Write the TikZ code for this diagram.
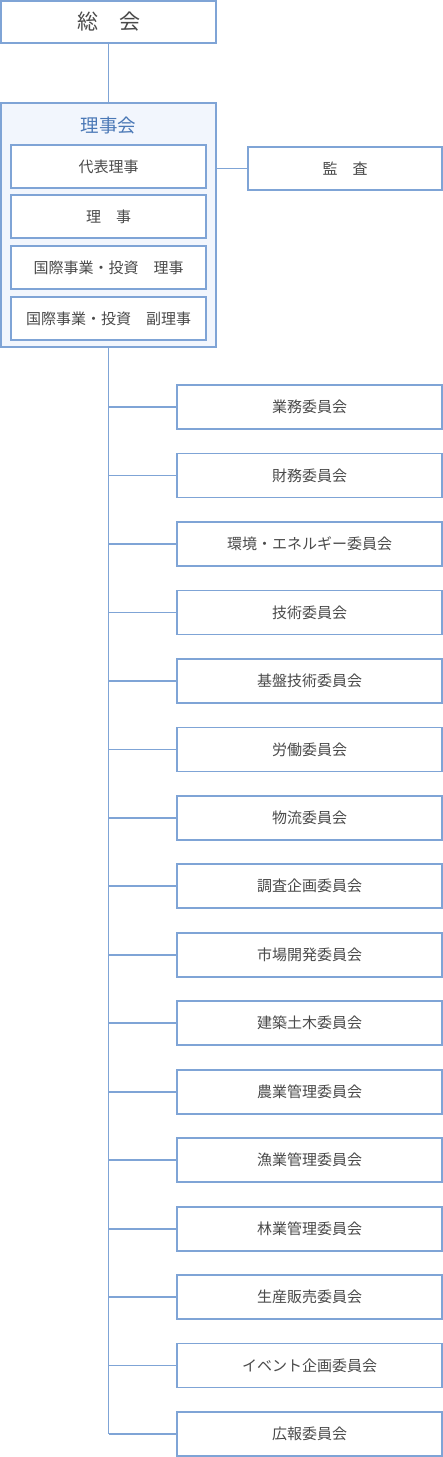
\documentclass[tikz,border=0pt]{standalone}
\usepackage{fontspec}
\setmainfont{Noto Sans CJK JP}
\definecolor{lc}{HTML}{7FA4D6}
\definecolor{tc}{HTML}{4A4A4A}
\definecolor{tb}{HTML}{4A78B6}
\definecolor{bg}{HTML}{F2F6FD}
\begin{document}
\begin{tikzpicture}[x=1pt,y=-1pt,
  box/.style={draw=lc,line width=1.7pt,fill=white,inner sep=0pt,text=tc,font=\fontsize{15}{18}\selectfont},
  inbox/.style={box,minimum width=195pt,minimum height=43pt},
  combox/.style={box,minimum width=265pt,minimum height=44pt},
  conn/.style={draw=lc,line width=1.7pt}]
\useasboundingbox (0,0) rectangle (443,1457);
\node[box,minimum width=215pt,minimum height=42pt,font=\fontsize{21}{24}\selectfont] (sokai) at (108.5,22) {総　会};
\node[draw=lc,line width=1.7pt,fill=bg,minimum width=215pt,minimum height=244pt,inner sep=0pt] (rijikai) at (108.5,225) {};
\node[text=tb,font=\fontsize{18.5}{22}\selectfont,inner sep=0pt] (title) at (108.5,125) {理事会};
\node[inbox] (r1) at (108.5,166.5) {代表理事};
\node[inbox] (r2) at (108.5,216.5) {理　事};
\node[inbox] (r3) at (108.5,267.5) {国際事業・投資　理事};
\node[inbox] (r4) at (108.5,318.5) {国際事業・投資　副理事};
\node[box,minimum width=194pt,minimum height=43pt] (kansa) at (345,168.5) {監　査};
\draw[conn] (sokai.south) -- (rijikai.north);
\draw[conn] (kansa.west) -- (kansa.west -| rijikai.east);
\foreach \t [count=\i from 0] in {業務委員会,財務委員会,環境・エネルギー委員会,技術委員会,基盤技術委員会,労働委員会,物流委員会,調査企画委員会,市場開発委員会,建築土木委員会,農業管理委員会,漁業管理委員会,林業管理委員会,生産販売委員会,イベント企画委員会,広報委員会}{
  \node[combox] (c\i) at (309.5,{407+\i*68.47}) {\t};
  \draw[conn] (c\i.west) -- (c\i.west -| rijikai.south);
}
\draw[conn] (rijikai.south) -- (rijikai.south |- c15.west);
\end{tikzpicture}
\end{document}
